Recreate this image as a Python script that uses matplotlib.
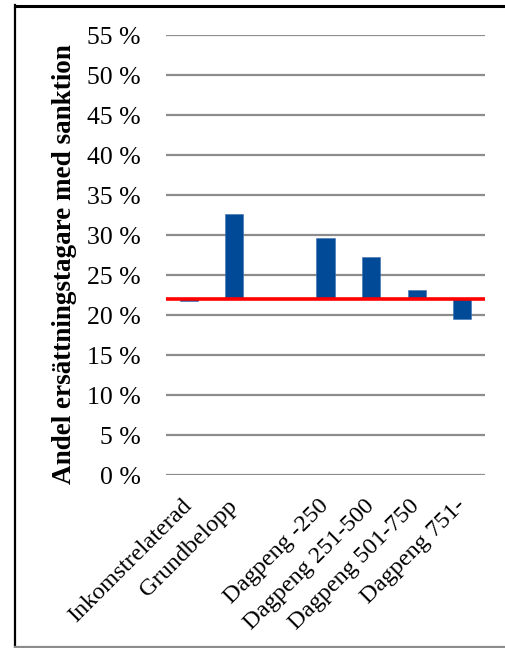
import matplotlib
matplotlib.use("Agg")
import matplotlib.pyplot as plt
from matplotlib.lines import Line2D
from matplotlib.ticker import FuncFormatter, MultipleLocator
import numpy as np

categories = ["Inkomstrelaterad", "Grundbelopp", "", "Dagpeng -250",
              "Dagpeng 251-500", "Dagpeng 501-750", "Dagpeng 751-"]
values = [21.8, 32.6, np.nan, 29.6, 27.3, 23.1, 19.5]
baseline = 22.0
ylabel = "Andel ersättningstagare med sanktion"

plt.rcParams['font.family'] = ['Liberation Serif', 'DejaVu Serif']

W, H = 506, 648
fig = plt.figure(figsize=(W / 100, H / 100), dpi=100)
ax = fig.add_axes([166 / W, 1 - 475 / H, (485 - 166) / W, 440 / H])

x = np.arange(len(categories))
vals = np.array(values, dtype=float)
mask = ~np.isnan(vals)
ax.bar(x[mask], vals[mask] - baseline, bottom=baseline, width=0.4,
       color="#004A98", edgecolor="#3F6FB0", linewidth=0.4, zorder=3)
ax.axhline(baseline, color="#FF0000", linewidth=2.6, zorder=4)

ax.set_xlim(-0.5, len(categories) - 0.5)
ax.set_ylim(0, 55)
ax.yaxis.set_major_locator(MultipleLocator(5))
ax.yaxis.set_major_formatter(FuncFormatter(lambda v, p: f"{int(round(v))} %"))
ax.grid(axis='y', color="#8C8C8C", linewidth=1.6, zorder=1)
ax.set_axisbelow(True)
for s in ax.spines.values():
    s.set_visible(False)
ax.tick_params(axis='y', length=0, pad=18, labelsize=18.5)
ax.tick_params(axis='x', length=0, pad=20)
ax.set_xticks(x)
ax.set_xticklabels(categories, rotation=45, ha='right', va='center',
                   rotation_mode='anchor', fontsize=17.5)
ax.set_ylabel(ylabel, fontsize=19.5, fontweight='bold')
ax.yaxis.set_label_coords(-0.279, 0.48)

# outer frame
fig.add_artist(Line2D([15 / W, 1], [1 - 5.5 / H] * 2, color="black", linewidth=2.2,
                      transform=fig.transFigure))
fig.add_artist(Line2D([15.5 / W] * 2, [1 - 5 / H, 1 - 647 / H], color="black",
                      linewidth=1.6, transform=fig.transFigure))
fig.add_artist(Line2D([15 / W, 1], [1 - 646.5 / H] * 2, color="#8C8C8C",
                      linewidth=1.6, transform=fig.transFigure))

fig.savefig("out.png", dpi=100)
